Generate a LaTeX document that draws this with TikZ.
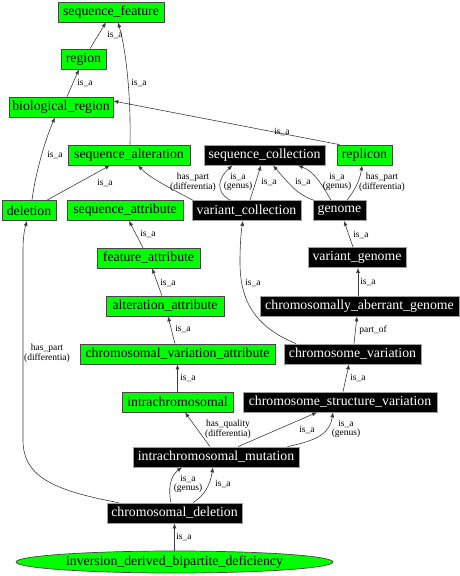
\documentclass[tikz,border=0pt]{standalone}
\usepackage{fontspec}
\setmainfont{Liberation Serif}
\usetikzlibrary{arrows.meta,shapes.geometric}
\definecolor{gfill}{RGB}{0,255,0}
\definecolor{gline}{RGB}{70,70,70}
\definecolor{bline}{RGB}{160,160,160}
\definecolor{eline}{RGB}{60,60,60}
\tikzset{
  gbox/.style={rectangle,draw=gline,fill=gfill,line width=0.7pt,minimum height=20,inner sep=0pt,font=\fontsize{13.8}{14}\selectfont,text=black},
  bbox/.style={rectangle,draw=bline,fill=black,line width=0.7pt,minimum height=20,inner sep=0pt,font=\fontsize{13.8}{14}\selectfont,text=white},
  edge/.style={draw=eline,line width=0.6pt,-{Latex[length=5pt,width=4pt]}},
  elab/.style={font=\fontsize{9.5}{7.5}\selectfont,align=center,inner sep=0pt,text=black}
}
\begin{document}
\begin{tikzpicture}[x=1pt,y=-1pt]
\useasboundingbox (0,0) rectangle (460,576);
% nodes
\node[gbox,minimum width=106] (sf) at (111,12) {sequence\_feature};
\node[gbox,minimum width=45] (reg) at (83.5,59) {region};
\node[gbox,minimum width=104] (bio) at (61,107) {biological\_region};
\node[gbox,minimum width=122] (salt) at (129,155) {sequence\_alteration};
\node[bbox,minimum width=121] (scol) at (264.5,155) {sequence\_collection};
\node[gbox,minimum width=55] (rep) at (364.5,155) {replicon};
\node[gbox,minimum width=54] (del) at (29,210.5) {deletion};
\node[gbox,minimum width=116] (satt) at (125,210.5) {sequence\_attribute};
\node[bbox,minimum width=109] (vcol) at (246.5,210.5) {variant\_collection};
\node[bbox,minimum width=53] (gen) at (339.5,210.5) {genome};
\node[gbox,minimum width=103] (fatt) at (148.5,258) {feature\_attribute};
\node[bbox,minimum width=98] (vgen) at (357,257.5) {variant\_genome};
\node[gbox,minimum width=118] (aatt) at (165,306) {alteration\_attribute};
\node[bbox,minimum width=199] (cag) at (359.5,306) {chromosomally\_aberrant\_genome};
\node[gbox,minimum width=195] (cva) at (177.5,354) {chromosomal\_variation\_attribute};
\node[bbox,minimum width=137] (cv) at (352.5,354) {chromosome\_variation};
\node[gbox,minimum width=111] (intra) at (177.5,402) {intrachromosomal};
\node[bbox,minimum width=194] (csv) at (340,402) {chromosome\_structure\_variation};
\node[bbox,minimum width=166] (im) at (216,457) {intrachromosomal\_mutation};
\node[bbox,minimum width=135] (cd) at (174.5,513) {chromosomal\_deletion};
\node[ellipse,draw=gline,fill=gfill,line width=0.7pt,minimum width=317,minimum height=22,inner sep=0pt,font=\fontsize{13.8}{14}\selectfont] (idbd) at (174.5,562) {inversion\_derived\_bipartite\_deficiency};
% edges
\draw[edge] ([xshift=6.5]reg.north) -- ([xshift=-5]sf.south);
\node[elab] (l1) at (115,35) {is\_a};
\draw[edge] ([xshift=1]salt.north) .. controls (131,95) and (126,50) .. ([xshift=7]sf.south);
\node[elab] (l2) at (139,83) {is\_a};
\draw[edge] ([xshift=6]bio.north) -- ([xshift=-4.5]reg.south);
\node[elab] (l3) at (85,83) {is\_a};
\draw[edge] ([xshift=3]rep.north west) -- ([yshift=6]bio.east);
\node[elab] (l4) at (282,132) {is\_a};
\draw[edge] ([xshift=3]del.north) .. controls (35,175) and (45,140) .. ([xshift=-6]bio.south);
\node[elab] (l5) at (55,155) {is\_a};
\draw[edge] ([xshift=18]del.north) -- ([xshift=-19]salt.south);
\node[elab] (l6) at (105,183) {is\_a};
\draw[edge] ([xshift=1]vcol.north west) .. controls (170,188) and (150,178) .. ([xshift=9]salt.south);
\node[elab] (l7) at (193,182) {has\_part\\(differentia)};
\draw[edge] ([xshift=-16.5]vcol.north) .. controls (215,192) and (218,178) .. ([xshift=-32]scol.south);
\node[elab] (l8) at (238,182) {is\_a\\(genus)};
\draw[edge] ([xshift=3.5]vcol.north) -- ([xshift=-3.5]scol.south);
\node[elab] (l9) at (269,182) {is\_a};
\draw[edge] ([xshift=1]gen.north west) .. controls (298,195) and (290,185) .. ([xshift=8.5]scol.south);
\node[elab] (l10) at (303,182) {is\_a};
\draw[edge] ([xshift=-8.5]gen.north) .. controls (322,185) and (315,172) .. ([xshift=33.5]scol.south);
\node[elab] (l11) at (337,182) {is\_a\\(genus)};
\draw[edge] ([xshift=7.5]gen.north) .. controls (355,190) and (360,180) .. ([xshift=-2.5]rep.south);
\node[elab] (l12) at (382,182) {has\_part\\(differentia)};
\draw[edge] ([xshift=-5.5]fatt.north) -- ([xshift=4]satt.south);
\node[elab] (l13) at (148,234) {is\_a};
\draw[edge] ([xshift=-3]aatt.north) -- ([xshift=3.5]fatt.south);
\node[elab] (l14) at (168,283) {is\_a};
\draw[edge] ([xshift=-2.5]cva.north) -- ([xshift=3]aatt.south);
\node[elab] (l15) at (183,329) {is\_a};
\draw[edge] (intra.north) -- (cva.south);
\node[elab] (l16) at (188,378) {is\_a};
\draw[edge] ([xshift=-4]vgen.north) -- ([xshift=4.5]gen.south);
\node[elab] (l17) at (361,235) {is\_a};
\draw[edge] ([xshift=-1.5]cag.north) -- ([xshift=1]vgen.south);
\node[elab] (l18) at (368,282) {is\_a};
\draw[edge] ([xshift=1.5]cv.north) -- ([xshift=-2.5]cag.south);
\node[elab] (l19) at (373,330) {part\_of};
\draw[edge] ([xshift=12.5]cv.north west) .. controls (250,325) and (240,295) .. (240,262) .. controls (240,245) and (241,232) .. ([xshift=-3.5]vcol.south);
\node[elab] (l20) at (253,283) {is\_a};
\draw[edge] ([xshift=3]csv.north) -- ([xshift=-3.5]cv.south);
\node[elab] (l21) at (358,378) {is\_a};
\draw[edge] ([xshift=-6]im.north) -- ([xshift=7.5]intra.south);
\node[elab] (l22) at (228,429) {has\_quality\\(differentia)};
\draw[edge] ([xshift=22]im.north) -- ([xshift=-23]csv.south);
\node[elab] (l23) at (307,430) {is\_a};
\draw[edge] ([xshift=-12]im.north east) .. controls (320,440) and (330,432) .. ([xshift=-7]csv.south);
\node[elab] (l24) at (346,429) {is\_a\\(genus)};
\draw[edge] ([xshift=-3.5]cd.north) .. controls (168,490) and (170,476) .. ([xshift=-34]im.south);
\node[elab] (l25) at (188,484) {is\_a\\(genus)};
\draw[edge] ([xshift=18.5]cd.north) .. controls (205,495) and (210,485) .. ([xshift=-3]im.south);
\node[elab] (l26) at (223,484) {is\_a};
\draw[edge] ([xshift=12]cd.north west) .. controls (50,490) and (23,475) .. (23,440) -- (23,250) .. controls (23,235) and (25,228) .. ([xshift=-2]del.south);
\node[elab] (l27) at (47,353) {has\_part\\(differentia)};
\draw[edge] (idbd.north) -- (cd.south);
\node[elab] (l28) at (184,537) {is\_a};
\end{tikzpicture}
\end{document}
